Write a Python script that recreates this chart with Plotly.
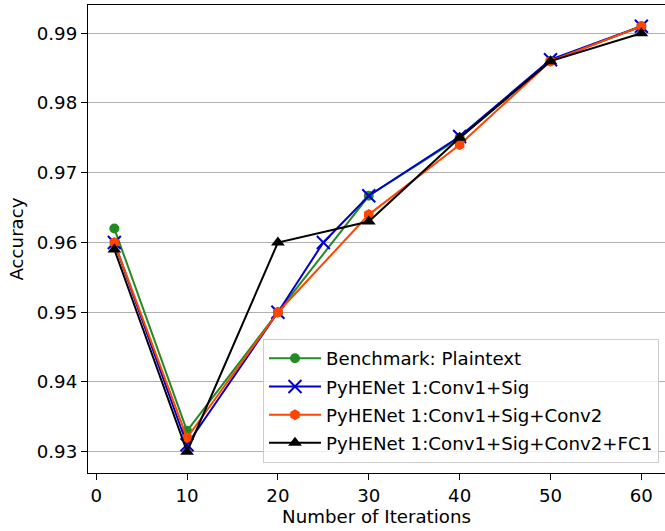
import plotly.graph_objects as go

iters_main = [2, 10, 20, 30, 40, 50, 60]
iters_blue = [2, 10, 20, 25, 30, 40, 50, 60]

acc_plain = [0.962, 0.933, 0.950, 0.9667, 0.975, 0.986, 0.991]
acc_conv1_sig = [0.960, 0.931, 0.950, 0.960, 0.9667, 0.9752, 0.9862, 0.991]
acc_conv1_sig_conv2 = [0.960, 0.932, 0.950, 0.964, 0.974, 0.986, 0.991]
acc_conv1_sig_conv2_fc1 = [0.959, 0.930, 0.960, 0.963, 0.975, 0.986, 0.990]

names = [
    "Benchmark: Plaintext",
    "PyHENet 1:Conv1+Sig",
    "PyHENet 1:Conv1+Sig+Conv2",
    "PyHENet 1:Conv1+Sig+Conv2+FC1",
]

x_ticks = [0, 10, 20, 30, 40, 50, 60]
y_ticks = [0.93, 0.94, 0.95, 0.96, 0.97, 0.98, 0.99]

FONT = "DejaVu Sans"
FS = 18.2

fig = go.Figure()
specs = [
    (iters_main, acc_plain, "#228B22", dict(symbol="circle", size=10)),
    (iters_blue, acc_conv1_sig, "#0000CD", dict(symbol="x-thin", size=13, line=dict(width=2, color="#0000CD"))),
    (iters_main, acc_conv1_sig_conv2, "#FF4500", dict(symbol="hexagon", size=11)),
    (iters_main, acc_conv1_sig_conv2_fc1, "#000000", dict(symbol="triangle-up", size=12)),
]
for i, (xs, ys, col, mk) in enumerate(specs):
    m = dict(color=col)
    m.update(mk)
    fig.add_trace(go.Scatter(
        x=xs, y=ys, mode="lines+markers", name=names[i],
        line=dict(color=col, width=2), marker=m, legendgroup=f"g{i}",
    ))

fig.update_layout(
    width=665, height=531,
    margin=dict(l=88, r=0, t=5, b=58),
    paper_bgcolor="white", plot_bgcolor="white",
    font=dict(family=FONT, size=FS, color="black"),
    showlegend=True,
    legend=dict(
        x=0.9896, y=0.0214, xanchor="right", yanchor="bottom",
        bgcolor="rgba(255,255,255,0.8)", bordercolor="#cccccc", borderwidth=1,
        font=dict(family=FONT, size=FS), tracegroupgap=1.5, itemwidth=52,
    ),
    xaxis=dict(
        range=[-0.9, 62.6], tickvals=x_ticks, showgrid=False, zeroline=False,
        showline=True, linecolor="black", linewidth=1.3, mirror=True,
        ticks="outside", ticklen=6, tickcolor="black",
        title=dict(text="Number of Iterations", standoff=5, font=dict(family=FONT, size=FS)),
    ),
    yaxis=dict(
        range=[0.92695, 0.99405], tickvals=y_ticks, tickformat=".2f",
        showgrid=True, gridcolor="#b0b0b0", gridwidth=1, zeroline=False,
        showline=True, linecolor="black", linewidth=1.3, mirror=False,
        ticks="outside", ticklen=6, tickcolor="black",
        title=dict(text="Accuracy", standoff=8, font=dict(family=FONT, size=FS)),
    ),
)

fig.write_html(
    "out.html",
    config={"displayModeBar": False},
    post_script="document.body.style.margin='0px';document.body.style.overflow='hidden';",
)
